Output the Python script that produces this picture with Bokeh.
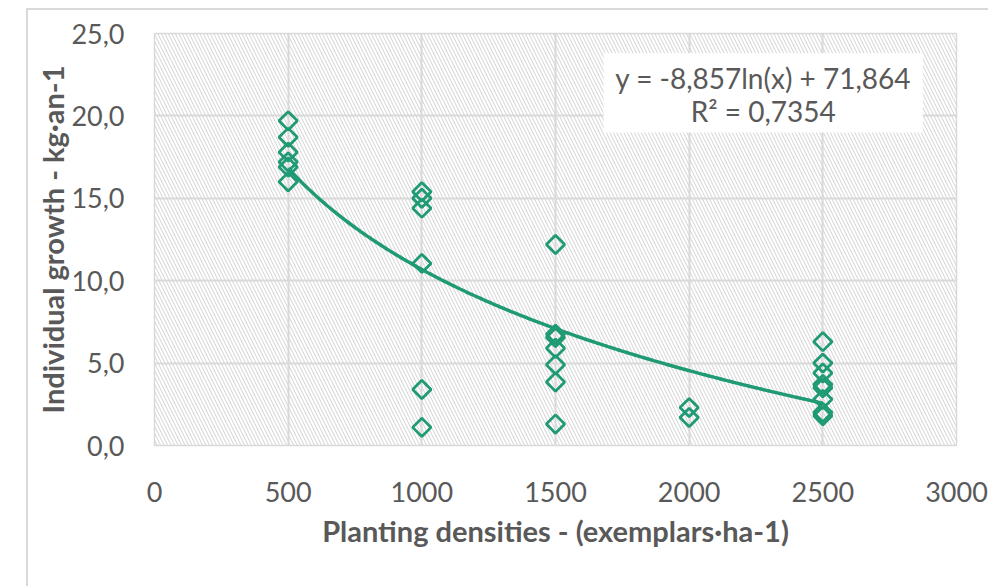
import numpy as np
from bokeh.plotting import figure
from bokeh.models import (Range1d, FixedTicker, CustomJSTickFormatter, BoxAnnotation,
                          Label, ColumnDataSource)
from bokeh.embed import file_html
from bokeh.resources import INLINE

# ---- data ----
density_500 = [19.7, 18.7, 17.8, 17.2, 16.9, 16.0]
density_1000 = [15.4, 15.0, 14.4, 11.05, 3.4, 1.1]
density_1500 = [12.2, 6.75, 6.55, 5.9, 4.9, 3.85, 1.3]
density_2000 = [2.3, 1.7]
density_2500 = [6.3, 5.0, 4.4, 3.7, 3.5, 2.8, 2.0, 1.8]

densities = [500, 1000, 1500, 2000, 2500]
groups = [density_500, density_1000, density_1500, density_2000, density_2500]

# log trendline as printed on the chart: y = a*ln(x) + b
TREND_A = -8.857
TREND_B = 71.864
TREND_X_MIN = 500
TREND_X_MAX = 2500
equation_text = "y = -8,857ln(x) + 71,864"
r2_text = "R\u00b2 = 0,7354"

x_ticks = [0, 500, 1000, 1500, 2000, 2500, 3000]
y_ticks = [0, 5, 10, 15, 20, 25]

x_title = "Planting densities - (exemplars\u00b7ha-1)"
y_title = "Individual growth - kg\u00b7an-1"

GREEN = "#1f9a74"
GRAY_TEXT = "#595959"
GRID = "#d9d9d9"
FONT = "Lato"

xs, ys = [], []
for d, vals in zip(densities, groups):
    xs += [d] * len(vals)
    ys += vals
src = ColumnDataSource(dict(x=xs, y=ys))

tx = np.linspace(TREND_X_MIN, TREND_X_MAX, 200)
ty = TREND_A * np.log(tx) + TREND_B

p = figure(width=962, height=578, output_backend="svg", toolbar_location=None,
           x_range=Range1d(0, 3000), y_range=Range1d(0, 25),
           margin=(8, 0, 0, 26),
           min_border_left=126, min_border_right=34, min_border_top=23, min_border_bottom=143)
p.styles = {"border-left": "2px solid #d9d9d9", "border-top": "2px solid #d9d9d9"}
p.background_fill_color = "white"
p.border_fill_color = "white"
p.outline_line_color = GRID
p.outline_line_width = 1.5

# hatched plot area
hatch = BoxAnnotation(fill_alpha=0, line_alpha=0, hatch_pattern="\\", hatch_color="#d2d2d2",
                      hatch_scale=7, hatch_weight=1.0, level="image")
p.add_layout(hatch)

for g in (p.xgrid, p.ygrid):
    g.grid_line_color = GRID
    g.grid_line_width = 2
p.xaxis.ticker = FixedTicker(ticks=x_ticks)
p.yaxis.ticker = FixedTicker(ticks=y_ticks)
p.yaxis.formatter = CustomJSTickFormatter(code="return tick.toFixed(1).replace('.', ',');")
p.xgrid.ticker = FixedTicker(ticks=x_ticks)
p.ygrid.ticker = FixedTicker(ticks=y_ticks)

for ax in (p.xaxis, p.yaxis):
    ax.axis_line_color = None
    ax.major_tick_line_color = None
    ax.minor_tick_line_color = None
    ax.major_tick_out = 0
    ax.major_tick_in = 0
    ax.minor_tick_out = 0
    ax.minor_tick_in = 0
    ax.major_label_text_font = FONT
    ax.major_label_text_font_size = "27px"
    ax.major_label_text_color = GRAY_TEXT
    ax.axis_label_text_font = FONT
    ax.axis_label_text_font_size = "29px"
    ax.axis_label_text_font_style = "bold"
    ax.axis_label_text_color = GRAY_TEXT

p.xaxis.axis_label = x_title
p.yaxis.axis_label = y_title
p.xaxis.major_label_standoff = 36
p.xaxis.axis_label_standoff = 8
p.yaxis.major_label_standoff = 30
p.yaxis.axis_label_standoff = -2

p.scatter("x", "y", source=src, marker="square", angle=np.pi / 4, size=13,
          fill_alpha=0, line_color=GREEN, line_width=2.8)
p.line(tx, ty, line_color=GREEN, line_width=3.5)

# equation box
box = BoxAnnotation(left=1680, right=2874, bottom=19.0, top=23.8, fill_color="white",
                    fill_alpha=1, line_alpha=0, level="annotation")
p.add_layout(box)
for txt, yy in ((equation_text, 22.27), (r2_text, 20.27)):
    p.add_layout(Label(x=2277, y=yy, text=txt, text_align="center", text_baseline="middle",
                       text_font=FONT, text_font_size="28px", text_color=GRAY_TEXT))

open("out.html", "w").write(file_html(p, INLINE))
